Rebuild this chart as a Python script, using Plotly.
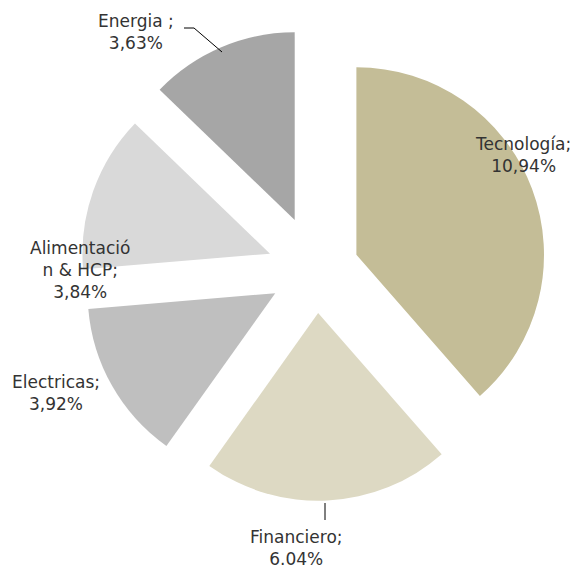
import plotly.graph_objects as go

W, H = 579, 568
OFF = 8  # browser body margin compensation

sectors = ["Tecnología", "Financiero", "Electricas", "Alimentación & HCP", "Energia"]
values = [10.94, 6.04, 3.92, 3.84, 3.63]
value_labels = ["10,94%", "6.04%", "3,92%", "3,84%", "3,63%"]
label_texts = ["Tecnología;", "Financiero;", "Electricas;", "Alimentació<br>n & HCP;", "Energia ;"]
colors = ["#C4BD97", "#DDD9C3", "#BFBFBF", "#D9D9D9", "#A6A6A6"]
pulls = [0.23, 0.23, 0.25, 0.26, 0.29]

# label positions in pixels (layout, not data)
label_pos = [(523, 155), (296, 548), (56, 393), (80, 270), (136, 32)]

def px(x, y):
    return (x - OFF) / W, 1 - (y - OFF) / H

cx, cy, half = 316, 270, 242
fig = go.Figure(go.Pie(
    labels=sectors,
    values=values,
    marker=dict(colors=colors, line=dict(width=0)),
    pull=pulls,
    sort=False,
    direction="clockwise",
    rotation=0,
    textinfo="none",
    hoverinfo="skip",
    showlegend=False,
    domain=dict(x=[(cx - OFF - half) / W, (cx - OFF + half) / W],
                y=[1 - (cy - OFF + half) / H, 1 - (cy - OFF - half) / H]),
))

annotations = []
for t, v, (x, y) in zip(label_texts, value_labels, label_pos):
    ax, ay = px(x, y)
    annotations.append(dict(
        x=ax, y=ay, xref="paper", yref="paper", text=f"{t}<br>{v}",
        showarrow=False, xanchor="center", yanchor="middle", align="center",
        font=dict(family="DejaVu Sans", size=17, color="#333333"),
    ))

shapes = []
def seg(p, q):
    x0, y0 = px(*p)
    x1, y1 = px(*q)
    shapes.append(dict(type="line", xref="paper", yref="paper", x0=x0, y0=y0, x1=x1, y1=y1,
                       line=dict(color="#000000", width=1)))

seg((184, 28), (194, 28))
seg((194, 28), (222, 52))
seg((325, 503), (325, 520))

fig.update_layout(
    width=W, height=H,
    margin=dict(l=0, r=0, t=0, b=0),
    paper_bgcolor="white", plot_bgcolor="white",
    annotations=annotations,
    shapes=shapes,
)

fig.write_html("out.html")
